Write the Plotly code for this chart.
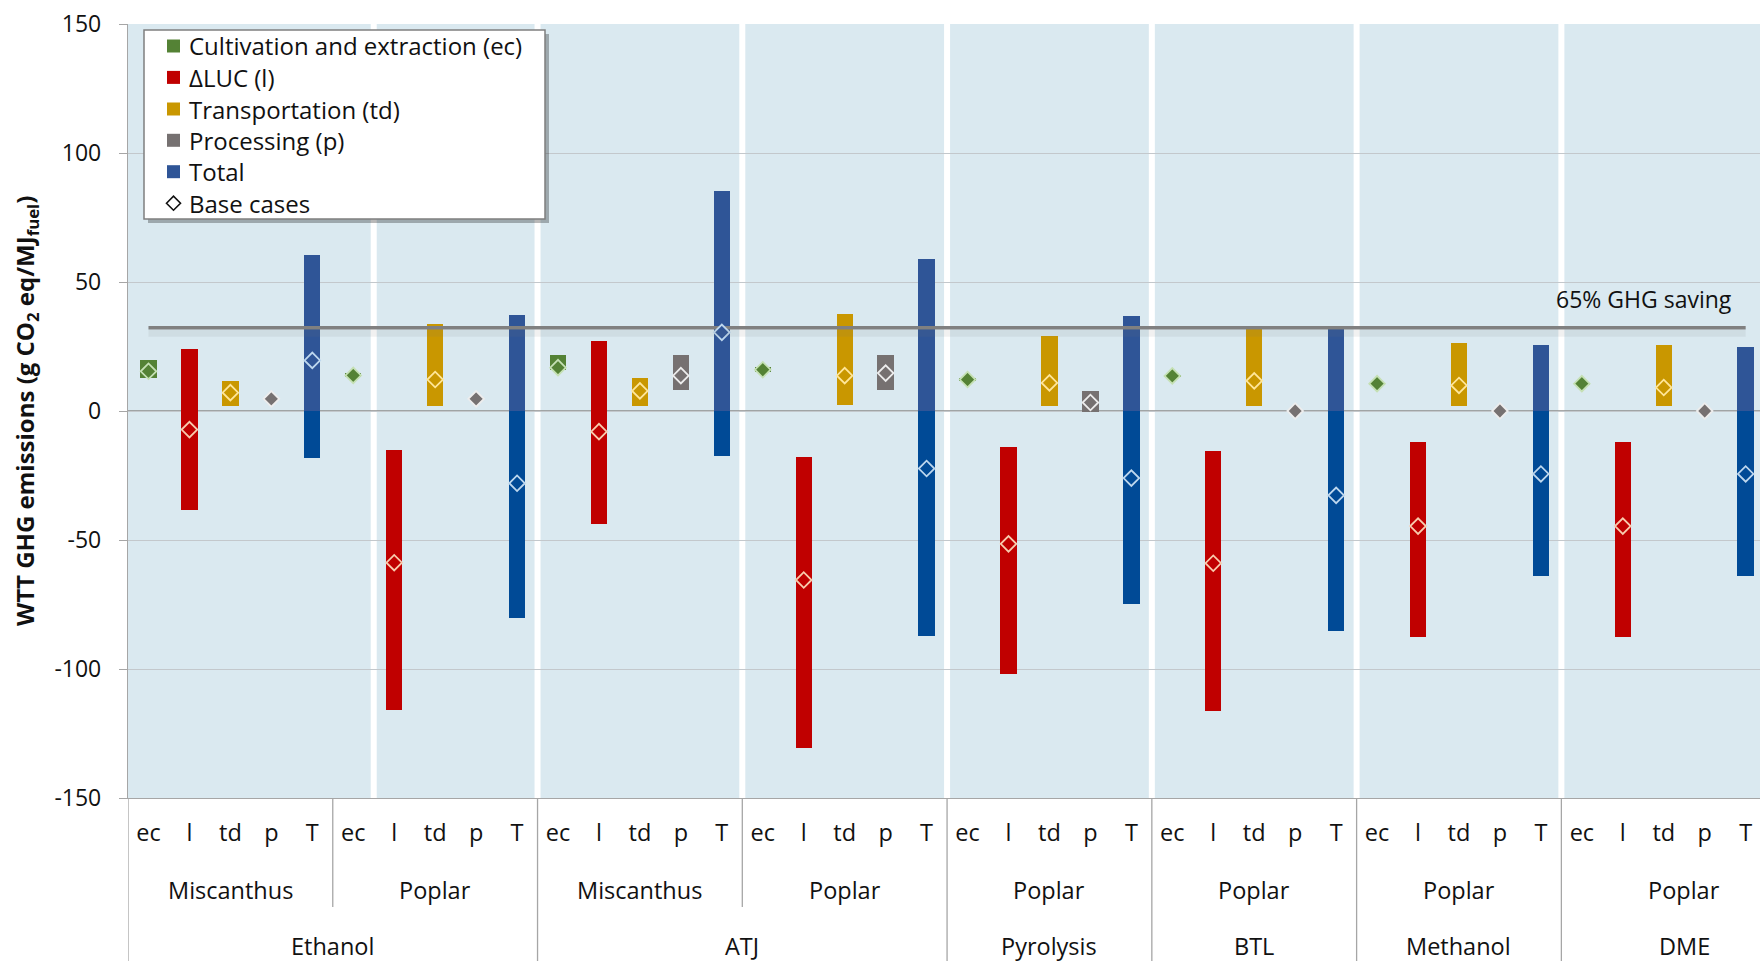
import plotly.graph_objects as go

# ---------------- data ----------------
components = ["ec", "l", "td", "p", "T"]
feedstocks = ["Miscanthus", "Poplar", "Miscanthus", "Poplar", "Poplar", "Poplar", "Poplar", "Poplar"]
feedstock_centers = [2, 7, 12, 17, 22, 27, 32, 37.5]
pathways = ["Ethanol", "ATJ", "Pyrolysis", "BTL", "Methanol", "DME"]
pathway_centers = [4.5, 14.5, 22, 27, 32, 37.5]

# ranges (low / high) and base case per feedstock-pathway combination
ec_lo = [12.9, 13.0, 15.8, 15.0, 11.6, 13.2, 10.2, 10.2]
ec_hi = [19.6, 14.6, 21.9, 17.0, 12.8, 14.0, 11.0, 11.0]
ec_base = [15.4, 13.8, 16.8, 16.0, 12.2, 13.6, 10.6, 10.6]

l_lo = [-38.5, -116.0, -43.8, -130.6, -102.0, -116.4, -87.7, -87.7]
l_hi = [24.1, -15.3, 27.1, -17.7, -14.1, -15.5, -11.9, -11.9]
l_base = [-7.2, -58.8, -8.0, -65.5, -51.5, -59.0, -44.6, -44.6]

td_lo = [1.9, 1.9, 1.9, 2.3, 1.9, 1.9, 1.9, 1.9]
td_hi = [11.5, 33.7, 12.8, 37.6, 29.2, 32.4, 26.4, 25.5]
td_base = [7.1, 12.2, 7.8, 13.7, 10.9, 11.7, 9.9, 9.1]

p_lo = [4.7, 4.7, 8.3, 8.3, -0.5, 0.0, 0.0, 0.0]
p_hi = [4.7, 4.7, 21.9, 21.9, 7.8, 0.0, 0.0, 0.0]
p_base = [4.7, 4.7, 13.7, 14.7, 3.3, 0.0, 0.0, 0.0]

T_lo = [-18.2, -80.3, -17.6, -87.1, -74.9, -85.3, -64.1, -64.1]
T_hi = [60.6, 37.4, 85.3, 59.1, 36.8, 31.8, 25.5, 24.7]
T_base = [19.6, -28.0, 30.5, -22.3, -26.0, -32.7, -24.4, -24.4]

ghg_65 = 32.3

legend_labels = ["Cultivation and extraction (ec)", "\u0394LUC (l)", "Transportation (td)",
                 "Processing (p)", "Total", "Base cases"]

# ---------------- styling ----------------
FONT = "Open Sans"
C_EC, C_L, C_TD, C_P = "#548235", "#C00000", "#C99700", "#767171"
C_T_POS, C_T_NEG = "#2F5597", "#004A96"
TINT = {"ec": "#C5E0B4", "l": "#F8CBAD", "td": "#FFE699", "p": "#EDEDED", "T": "#BDD7EE"}
BAR_W = 0.4

n_groups = len(feedstocks)
xs = {c: [5 * g + j for g in range(n_groups)] for j, c in enumerate(components)}

fig = go.Figure()


def range_bar(x, lo, hi, color):
    fig.add_trace(go.Bar(x=x, base=lo, y=[h - l for l, h in zip(lo, hi)],
                         width=BAR_W, marker=dict(color=color, line=dict(width=0)),
                         showlegend=False, hoverinfo="skip"))


range_bar(xs["ec"], ec_lo, ec_hi, C_EC)
range_bar(xs["l"], l_lo, l_hi, C_L)
range_bar(xs["td"], td_lo, td_hi, C_TD)
range_bar(xs["p"], p_lo, p_hi, C_P)
# total: positive part and negative part drawn in two shades
t_pos_lo = [max(l, 0) for l in T_lo]
t_pos_hi = [max(h, 0) for h in T_hi]
t_neg_lo = [min(l, 0) for l in T_lo]
t_neg_hi = [min(h, 0) for h in T_hi]
range_bar(xs["T"], t_pos_lo, t_pos_hi, C_T_POS)
range_bar(xs["T"], t_neg_lo, t_neg_hi, C_T_NEG)

# 65 % saving threshold
fig.add_shape(type="rect", xref="x", yref="y", x0=0, x1=5 * n_groups - 1,
              ysizemode="pixel", yanchor=ghg_65, y0=-2, y1=-9,
              fillcolor="rgba(120,120,120,0.10)", line=dict(width=0), layer="above")
fig.add_trace(go.Scatter(x=[0, 5 * n_groups - 1], y=[ghg_65, ghg_65], mode="lines",
                         line=dict(color="#808080", width=3.5), showlegend=False, hoverinfo="skip"))
fig.add_annotation(x=38.72, y=ghg_65, xref="x", yref="y", text="65% GHG saving",
                   showarrow=False, xanchor="right", yanchor="middle", yshift=29,
                   font=dict(family=FONT, size=23, color="#111111"))


def base_markers(x, base, fill, tint):
    fig.add_trace(go.Scatter(x=x, y=base, mode="markers", showlegend=False, hoverinfo="skip",
                             marker=dict(symbol="diamond", size=12, color=fill,
                                         line=dict(color=tint, width=1.8))))


base_markers(xs["ec"], ec_base, C_EC, TINT["ec"])
base_markers(xs["l"], l_base, C_L, TINT["l"])
base_markers(xs["td"], td_base, C_TD, TINT["td"])
base_markers(xs["p"], p_base, C_P, TINT["p"])
base_markers(xs["T"], T_base, [C_T_POS if b >= 0 else C_T_NEG for b in T_base], TINT["T"])

# ---------------- background panels ----------------
for xv in [5.5, 9.5, 14.5, 19.5, 24.5, 29.5, 34.5]:
    fig.add_shape(type="line", xref="x", yref="paper", x0=xv, x1=xv, y0=0, y1=1,
                  line=dict(color="white", width=6), layer="between")
fig.add_shape(type="line", xref="paper", yref="y", x0=0, x1=1, y0=0, y1=0,
              line=dict(color="#8C8C8C", width=1.6), layer="between")

# ---------------- category axis (3 levels) ----------------
L, T, W, H = 128, 24, 1632, 774


def py(p):  # pixel row -> paper y
    return (T + H - p) / H


def px(p):  # pixel column -> paper x
    return (p - L) / W


for xv in [-0.5, 9.5, 19.5, 24.5, 29.5, 34.5]:
    fig.add_shape(type="line", xref="x", yref="paper", x0=xv, x1=xv, y0=0, y1=py(965),
                  line=dict(color="#A6A6A6", width=1.3))
for xv in [4.5, 14.5]:
    fig.add_shape(type="line", xref="x", yref="paper", x0=xv, x1=xv, y0=0, y1=py(907),
                  line=dict(color="#A6A6A6", width=1.3))

for name, cx in zip(feedstocks, feedstock_centers):
    fig.add_annotation(x=cx, y=py(890), xref="x", yref="paper", text=name, showarrow=False,
                       xanchor="center", yanchor="middle",
                       font=dict(family=FONT, size=23.5, color="#111111"))
for name, cx in zip(pathways, pathway_centers):
    fig.add_annotation(x=cx, y=py(946), xref="x", yref="paper", text=name, showarrow=False,
                       xanchor="center", yanchor="middle",
                       font=dict(family=FONT, size=23.5, color="#111111"))

# y axis title
fig.add_annotation(x=0, y=0.5, xref="paper", yref="paper", xshift=-102,
                   text="<b>WTT GHG emissions (g CO<sub>2</sub> eq/MJ<sub>fuel</sub>)</b>",
                   textangle=-90, showarrow=False, xanchor="center", yanchor="middle",
                   font=dict(family=FONT, size=24, color="#111111"))

# ---------------- legend box ----------------
lx0, lx1, ly0, ly1 = 144, 545, 30, 219
fig.add_shape(type="rect", xref="paper", yref="paper", x0=px(lx0 + 4), x1=px(lx1 + 4),
              y0=py(ly0 + 4), y1=py(ly1 + 4), fillcolor="rgba(0,0,0,0.28)",
              line=dict(width=0), layer="above")
fig.add_shape(type="rect", xref="paper", yref="paper", x0=px(lx0), x1=px(lx1),
              y0=py(ly0), y1=py(ly1), fillcolor="white",
              line=dict(color="#7F7F7F", width=1.5), layer="above")
row_y = [46, 77.4, 109, 140.3, 171.7, 203.2]
swatches = [C_EC, C_L, C_TD, C_P, C_T_POS]
for ry, col in zip(row_y[:5], swatches):
    fig.add_shape(type="rect", xref="paper", yref="paper", x0=px(167), x1=px(180),
                  y0=py(ry - 6.5), y1=py(ry + 6.5), fillcolor=col, line=dict(width=0),
                  layer="above")
dcx, dcy, dr = 173.5, row_y[5], 7
fig.add_shape(type="path", xref="paper", yref="paper",
              path=f"M {px(dcx - dr)},{py(dcy)} L {px(dcx)},{py(dcy - dr)} "
                   f"L {px(dcx + dr)},{py(dcy)} L {px(dcx)},{py(dcy + dr)} Z",
              fillcolor="white", line=dict(color="#111111", width=1.6), layer="above")
for ry, label in zip(row_y, legend_labels):
    fig.add_annotation(x=px(187), y=py(ry), xref="paper", yref="paper", text=label,
                       showarrow=False, xanchor="left", yanchor="middle",
                       font=dict(family=FONT, size=24, color="#111111"))

# ---------------- layout ----------------
fig.update_layout(
    width=1760, height=961,
    margin=dict(l=L, r=0, t=T, b=961 - T - H),
    paper_bgcolor="white", plot_bgcolor="#DAE9F0",
    showlegend=False, barmode="overlay", bargap=0,
    font=dict(family=FONT, color="#111111"),
    xaxis=dict(range=[-0.5, 39.35], tickmode="array", tickvals=list(range(5 * n_groups)),
               ticktext=components * n_groups, showgrid=False, zeroline=False,
               showline=True, linecolor="#A6A6A6", linewidth=1.3, ticks="",
               ticklabelstandoff=14, tickfont=dict(family=FONT, size=23.5, color="#111111")),
    yaxis=dict(range=[-150, 150], tickmode="array", tickvals=[-150, -100, -50, 0, 50, 100, 150],
               ticktext=["-150", "-100", "-50", "0", "50", "100", "150"],
               showgrid=True, gridcolor="#C3C8CC", gridwidth=1.3, zeroline=False,
               showline=True, linecolor="#A6A6A6", linewidth=1.3,
               ticks="outside", ticklen=8, tickcolor="#A6A6A6", tickwidth=1.3,
               ticklabelstandoff=13, tickfont=dict(family=FONT, size=23, color="#111111")),
)

fig.write_html("out.html")
